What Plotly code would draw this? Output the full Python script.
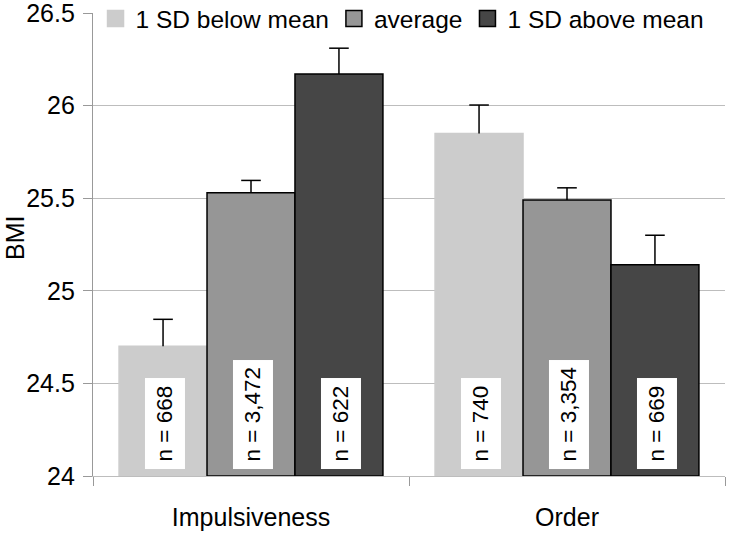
import plotly.graph_objects as go

categories = ["Impulsiveness", "Order"]
series_names = ["1 SD below mean", "average", "1 SD above mean"]
below_vals = [24.70, 25.85]
average_vals = [25.53, 25.49]
above_vals = [26.17, 25.14]
below_err = [0.146, 0.153]
average_err = [0.066, 0.066]
above_err = [0.14, 0.16]
below_n = ["n = 668", "n = 740"]
average_n = ["n = 3,472", "n = 3,354"]
above_n = ["n = 622", "n = 669"]
y_ticks = [24, 24.5, 25, 25.5, 26, 26.5]
y_tick_labels = ["24", "24.5", "25", "25.5", "26", "26.5"]

colors = ["#cccccc", "#969696", "#464646"]
line_colors = ["#cccccc", "#000000", "#000000"]
FONT = "Liberation Sans, Arial, sans-serif"
BARGAP = 0.165

vals = [below_vals, average_vals, above_vals]
errs = [below_err, average_err, above_err]
ns = [below_n, average_n, above_n]

fig = go.Figure()
for i, name in enumerate(series_names):
    fig.add_trace(go.Bar(
        x=categories, y=[v - 24 for v in vals[i]], base=24, name=name,
        marker=dict(color=colors[i], line=dict(color=line_colors[i], width=1.5)),
        showlegend=False, offsetgroup=str(i), alignmentgroup="a",
    ))
for i, name in enumerate(series_names):
    tops = [v + e for v, e in zip(vals[i], errs[i])]
    fig.add_trace(go.Scatter(
        x=categories, y=tops, mode="markers", showlegend=False,
        marker=dict(symbol="line-ew-open", size=14, color="black",
                    line=dict(color="black", width=1.5)),
        error_y=dict(type="data", symmetric=False, array=[0] * len(tops),
                     arrayminus=errs[i], color="black", thickness=1.5, width=0),
        offsetgroup=str(i), alignmentgroup="a", hoverinfo="skip",
    ))
for i, name in enumerate(series_names):
    fig.add_trace(go.Scatter(
        x=[None], y=[None], mode="markers", name=name,
        marker=dict(symbol="square", size=19, color=colors[i],
                    line=dict(color=line_colors[i], width=1.5)),
        showlegend=True,
    ))

shift_px = 88
for i in range(3):
    for j, cat in enumerate(categories):
        fig.add_annotation(
            x=cat, y=24.035, xref="x", yref="y", text=ns[i][j],
            textangle=-90, showarrow=False, yanchor="bottom",
            xshift=(i - 1) * shift_px + 2,
            bgcolor="white", borderpad=7,
            font=dict(family=FONT, size=22.5, color="black"),
        )

fig.add_annotation(
    x=-0.1234, y=0.514, xref="paper", yref="paper", text="BMI",
    textangle=-90, showarrow=False, xanchor="center", yanchor="middle",
    font=dict(family=FONT, size=25, color="black"),
)

fig.update_layout(
    width=730, height=534,
    margin=dict(l=93, r=5, t=13, b=58, autoexpand=False),
    plot_bgcolor="white", paper_bgcolor="white",
    barmode="group", bargap=BARGAP, bargroupgap=0,
    scattermode="group", scattergap=BARGAP,
    font=dict(family=FONT, size=25, color="black"),
    legend=dict(orientation="h", x=0.004, y=0.988, xanchor="left", yanchor="middle",
                bgcolor="white", font=dict(size=24.5), itemwidth=30,
                tracegroupgap=0, borderwidth=0),
    showlegend=True,
)
fig.update_yaxes(
    range=[24, 26.5], tickvals=y_ticks, ticktext=y_tick_labels,
    showline=True, linecolor="#999999", linewidth=1.2,
    showgrid=True, gridcolor="#bdbdbd", gridwidth=1.2,
    ticks="outside", ticklen=9, tickcolor="#999999",
    zeroline=False, ticklabelstandoff=3, automargin=False,
    ticklabeloverflow="allow",
)
fig.update_xaxes(
    showline=True, linecolor="#bdbdbd", linewidth=1.2,
    ticks="outside", ticklen=9, tickcolor="#999999", tickson="boundaries",
    showgrid=False, ticklabelstandoff=19, automargin=False,
    ticklabeloverflow="allow",
)

fig.write_html("out.html", config={"displayModeBar": False},
               post_script="document.body.style.margin='0px';document.body.style.overflow='hidden';")
